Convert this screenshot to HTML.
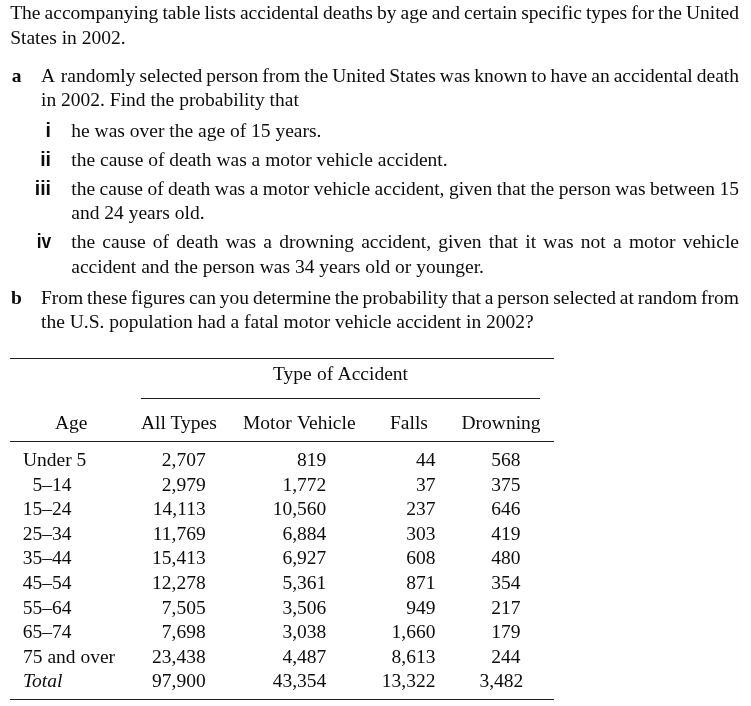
<!DOCTYPE html><html><head><meta charset="utf-8"><title>Accidental deaths</title><style>
html,body{margin:0;padding:0;background:#fff;}
body{will-change:transform;width:751px;height:706px;position:relative;overflow:hidden;font-family:"Liberation Serif", serif;font-size:19.5px;color:#0c0c0c;}
.t{position:absolute;white-space:pre;line-height:24px;height:24px;}
.bs{font-weight:bold;}
.bn{font-family:"Liberation Sans", sans-serif;font-weight:bold;}
.it{font-style:italic;}
.iv{transform:scaleX(0.89);transform-origin:100% 50%;}
.r{position:absolute;height:1px;background:#222;}
</style></head><body>
<div class="t" id="t0" style="top:1.00px;left:10.2px;word-spacing:-0.774px">The accompanying table lists accidental deaths by age and certain specific types for the United</div>
<div class="t" id="t1" style="top:26.00px;left:10.2px">States in 2002.</div>
<div class="t bs" id="t2" style="top:64.00px;left:11.7px">a</div>
<div class="t" id="t3" style="top:64.00px;left:41px;word-spacing:-0.856px"><span style="margin-right:1.7px">A</span> randomly selected person from the United States was known to have an accidental death</div>
<div class="t" id="t4" style="top:88.00px;left:41px">in 2002. Find the probability that</div>
<div class="t bn" id="t5" style="top:118.00px;right:700.00px">i</div>
<div class="t" id="t6" style="top:119.00px;left:71.3px">he was over the age of 15 years.</div>
<div class="t bn" id="t7" style="top:147.00px;right:700.00px">ii</div>
<div class="t" id="t8" style="top:148.00px;left:71.3px">the cause of death was a motor vehicle accident.</div>
<div class="t bn" id="t9" style="top:176.00px;right:700.00px">iii</div>
<div class="t" id="t10" style="top:177.00px;left:71.3px;word-spacing:-0.393px">the cause of death was a motor vehicle accident, given that the person was between 15</div>
<div class="t" id="t11" style="top:201.00px;left:71.3px">and 24 years old.</div>
<div class="t bn iv" id="t12" style="top:229.00px;right:700.00px">iv</div>
<div class="t" id="t13" style="top:230.00px;left:71.3px;word-spacing:2.349px">the cause of death was a drowning accident, given that it was not a motor vehicle</div>
<div class="t" id="t14" style="top:255.00px;left:71.3px">accident and the person was 34 years old or younger.</div>
<div class="t bs" id="t15" style="top:286.00px;left:11px">b</div>
<div class="t" id="t16" style="top:286.00px;left:41px;word-spacing:-1.044px">From these figures can you determine the probability that a person selected at random from</div>
<div class="t" id="t17" style="top:310.00px;left:41px">the U.S. population had a fatal motor vehicle accident in 2002?</div>
<div class="t" id="t18" style="top:362.00px;left:273px;word-spacing:0.492px">Type of Accident</div>
<div class="t" id="t19" style="top:411.00px;left:55px">Age</div>
<div class="t" id="t20" style="top:411.00px;left:141px">All Types</div>
<div class="t" id="t21" style="top:411.00px;left:243px;word-spacing:0.850px">Motor Vehicle</div>
<div class="t" id="t22" style="top:411.00px;left:390px">Falls</div>
<div class="t" id="t23" style="top:411.00px;left:461.5px">Drowning</div>
<div class="t" id="t24" style="top:448.00px;left:23px">Under 5</div>
<div class="t" id="t25" style="top:448.00px;right:545.30px">2,707</div>
<div class="t" id="t26" style="top:448.00px;right:424.70px">819</div>
<div class="t" id="t27" style="top:448.00px;right:315.60px">44</div>
<div class="t" id="t28" style="top:448.00px;right:230.50px">568</div>
<div class="t" id="t29" style="top:473.00px;right:679.50px">5–14</div>
<div class="t" id="t30" style="top:473.00px;right:545.30px">2,979</div>
<div class="t" id="t31" style="top:473.00px;right:424.70px">1,772</div>
<div class="t" id="t32" style="top:473.00px;right:315.60px">37</div>
<div class="t" id="t33" style="top:473.00px;right:230.50px">375</div>
<div class="t" id="t34" style="top:497.00px;right:679.50px">15–24</div>
<div class="t" id="t35" style="top:497.00px;right:545.30px">14,113</div>
<div class="t" id="t36" style="top:497.00px;right:424.70px">10,560</div>
<div class="t" id="t37" style="top:497.00px;right:315.60px">237</div>
<div class="t" id="t38" style="top:497.00px;right:230.50px">646</div>
<div class="t" id="t39" style="top:522.00px;right:679.50px">25–34</div>
<div class="t" id="t40" style="top:522.00px;right:545.30px">11,769</div>
<div class="t" id="t41" style="top:522.00px;right:424.70px">6,884</div>
<div class="t" id="t42" style="top:522.00px;right:315.60px">303</div>
<div class="t" id="t43" style="top:522.00px;right:230.50px">419</div>
<div class="t" id="t44" style="top:546.00px;right:679.50px">35–44</div>
<div class="t" id="t45" style="top:546.00px;right:545.30px">15,413</div>
<div class="t" id="t46" style="top:546.00px;right:424.70px">6,927</div>
<div class="t" id="t47" style="top:546.00px;right:315.60px">608</div>
<div class="t" id="t48" style="top:546.00px;right:230.50px">480</div>
<div class="t" id="t49" style="top:571.00px;right:679.50px">45–54</div>
<div class="t" id="t50" style="top:571.00px;right:545.30px">12,278</div>
<div class="t" id="t51" style="top:571.00px;right:424.70px">5,361</div>
<div class="t" id="t52" style="top:571.00px;right:315.60px">871</div>
<div class="t" id="t53" style="top:571.00px;right:230.50px">354</div>
<div class="t" id="t54" style="top:596.00px;right:679.50px">55–64</div>
<div class="t" id="t55" style="top:596.00px;right:545.30px">7,505</div>
<div class="t" id="t56" style="top:596.00px;right:424.70px">3,506</div>
<div class="t" id="t57" style="top:596.00px;right:315.60px">949</div>
<div class="t" id="t58" style="top:596.00px;right:230.50px">217</div>
<div class="t" id="t59" style="top:620.00px;right:679.50px">65–74</div>
<div class="t" id="t60" style="top:620.00px;right:545.30px">7,698</div>
<div class="t" id="t61" style="top:620.00px;right:424.70px">3,038</div>
<div class="t" id="t62" style="top:620.00px;right:315.60px">1,660</div>
<div class="t" id="t63" style="top:620.00px;right:230.50px">179</div>
<div class="t" id="t64" style="top:645.00px;left:23px">75 and over</div>
<div class="t" id="t65" style="top:645.00px;right:545.30px">23,438</div>
<div class="t" id="t66" style="top:645.00px;right:424.70px">4,487</div>
<div class="t" id="t67" style="top:645.00px;right:315.60px">8,613</div>
<div class="t" id="t68" style="top:645.00px;right:230.50px">244</div>
<div class="t it" id="t69" style="top:669.00px;left:23px">Total</div>
<div class="t" id="t70" style="top:669.00px;right:545.30px">97,900</div>
<div class="t" id="t71" style="top:669.00px;right:424.70px">43,354</div>
<div class="t" id="t72" style="top:669.00px;right:315.60px">13,322</div>
<div class="t" id="t73" style="top:669.00px;right:227.70px">3,482</div>
<div class="r" style="left:10px;width:543.5px;top:358px"></div>
<div class="r" style="left:141px;width:398.5px;top:398px"></div>
<div class="r" style="left:10px;width:543.5px;top:441px"></div>
<div class="r" style="left:10px;width:543.5px;top:699px"></div>
</body></html>
